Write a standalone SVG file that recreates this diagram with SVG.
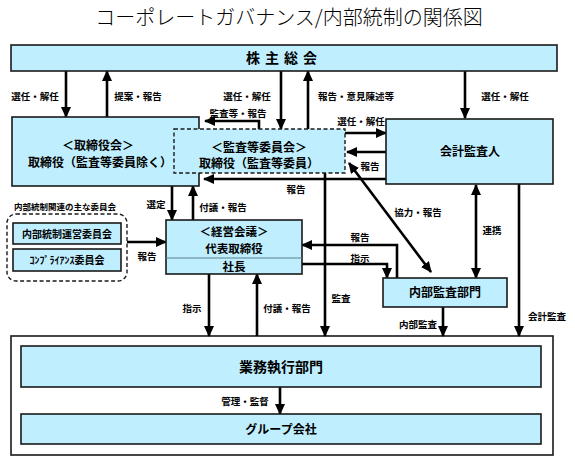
<svg xmlns="http://www.w3.org/2000/svg" width="575" height="459" viewBox="0 0 575 459">
<style>
text{font-family:"Noto Sans CJK JP","Noto Sans",sans-serif;fill:#000}
.box{fill:#BFEFFF;stroke:#1a1a1a;stroke-width:1.6}
.dash{fill:#BFEFFF;stroke:#1a1a1a;stroke-width:1.4;stroke-dasharray:4 2.5}
.grp{fill:#fff;stroke:#1a1a1a;stroke-width:1.4;stroke-dasharray:4 2.5}
.outer{fill:#fff;stroke:#1a1a1a;stroke-width:1.6}
.n{font-size:12px;font-weight:bold;text-anchor:middle}
.big{font-size:14px;font-weight:bold;text-anchor:middle}
.l{font-size:9.5px;font-weight:bold;text-anchor:middle}
.c{fill:none;stroke:#000;stroke-width:2.6}
</style>
<defs>
<marker id="ah" markerUnits="userSpaceOnUse" markerWidth="11" markerHeight="10" refX="10" refY="5" orient="auto">
<path d="M0,0 L11,5 L0,10 z" fill="#000"/>
</marker>
<marker id="as" markerUnits="userSpaceOnUse" markerWidth="11" markerHeight="10" refX="1" refY="5" orient="auto">
<path d="M11,0 L0,5 L11,10 z" fill="#000"/>
</marker>
</defs>
<text x="289" y="25" style="font-size:20px;font-weight:300;text-anchor:middle">コーポレートガバナンス/内部統制の関係図</text>

<g id="outer-exec"><rect class="outer" x="11" y="336" width="542" height="119"/></g>

<g id="connectors">
<path class="c" d="M66,71 V117" marker-end="url(#ah)"/>
<path class="c" d="M107,117 V71" marker-end="url(#ah)"/>
<path class="c" d="M281,71 V129" marker-end="url(#ah)"/>
<path class="c" d="M308,129 V71" marker-end="url(#ah)"/>
<path class="c" d="M465,71 V118" marker-end="url(#ah)"/>
<path class="c" d="M259,129 V121 H205" marker-end="url(#ah)"/>
<path class="c" d="M345,133 H386" marker-end="url(#ah)"/>
<path class="c" d="M386,152 H347" marker-end="url(#ah)"/>
<path class="c" d="M386,179 H204" marker-end="url(#ah)"/>
<path class="c" d="M349,163 L431,272" marker-start="url(#as)" marker-end="url(#ah)"/>
<path class="c" d="M476,185 V278" marker-start="url(#as)" marker-end="url(#ah)"/>
<path class="c" d="M519,184 V336" marker-end="url(#ah)"/>
<path class="c" d="M443,307 V336" marker-end="url(#ah)"/>
<path class="c" d="M172,186 V220" marker-end="url(#ah)"/>
<path class="c" d="M193,220 V186" marker-end="url(#ah)"/>
<path class="c" d="M127,242 H166" marker-end="url(#ah)"/>
<path class="c" d="M397,278 V245 H302" marker-end="url(#ah)"/>
<path class="c" d="M302,264 H387 V278" marker-end="url(#ah)"/>
<path class="c" d="M325,173 V336" marker-end="url(#ah)"/>
<path class="c" d="M209,274 V336" marker-end="url(#ah)"/>
<path class="c" d="M257,336 V274" marker-end="url(#ah)"/>
<path class="c" d="M280,387 V414" marker-end="url(#ah)"/>
<text class="l" x="35" y="100">選任・解任</text>
<text class="l" x="138" y="100">提案・報告</text>
<text class="l" x="247" y="100">選任・解任</text>
<text class="l" x="356" y="100">報告・意見陳述等</text>
<text class="l" x="505" y="100">選任・解任</text>
<text class="l" x="238" y="117">監査等・報告</text>
<text class="l" x="361" y="125">選任・解任</text>
<text class="l" x="370" y="170">報告</text>
<text class="l" x="296" y="193">報告</text>
<text class="l" x="418" y="216">協力・報告</text>
<text class="l" x="492" y="234">連携</text>
<text class="l" x="547" y="320">会計監査</text>
<text class="l" x="418" y="328">内部監査</text>
<text class="l" x="156" y="208">選定</text>
<text class="l" x="223" y="211">付議・報告</text>
<text class="l" x="147" y="260">報告</text>
<text class="l" x="360" y="241">報告</text>
<text class="l" x="360" y="262">指示</text>
<text class="l" x="341" y="302">監査</text>
<text class="l" x="192" y="312">指示</text>
<text class="l" x="287" y="312">付議・報告</text>
<text class="l" x="245" y="405">管理・監督</text>
</g>

<g id="shareholders">
<rect class="box" x="11" y="45" width="546" height="26"/>
<text class="big" x="284" y="63" style="letter-spacing:5px">株主総会</text>
</g>
<g id="board">
<rect class="box" x="12" y="117" width="187" height="69"/>
<text class="n" x="98" y="150">＜取締役会＞</text>
<text class="n" x="100" y="167">取締役（監査等委員除く）</text>
</g>
<g id="audit-committee">
<rect class="dash" x="174" y="129" width="171" height="44"/>
<text class="n" x="259" y="152">＜監査等委員会＞</text>
<text class="n" x="259" y="168">取締役（監査等委員）</text>
</g>
<g id="accounting-auditor">
<rect class="box" x="386" y="119" width="167" height="65"/>
<text class="n" x="470" y="156">会計監査人</text>
</g>
<g id="management-meeting">
<rect class="box" x="166" y="220" width="136" height="54"/>
<line x1="166" y1="258" x2="302" y2="258" stroke="#5a7f8a" stroke-width="1"/>
<text class="n" x="234" y="236" style="font-size:11.5px">＜経営会議＞</text>
<text class="n" x="234" y="253" style="font-size:11.5px">代表取締役</text>
<text class="n" x="234" y="271" style="font-size:11.5px">社長</text>
</g>
<g id="committees">
<text x="65" y="210" style="font-size:8.5px;font-weight:bold;text-anchor:middle">内部統制関連の主な委員会</text>
<rect class="grp" x="7" y="214" width="120" height="67" rx="9"/>
<rect class="box" x="13" y="223" width="108" height="21"/>
<text x="67" y="238" style="font-size:10px;font-weight:bold;text-anchor:middle">内部統制運営委員会</text>
<rect class="box" x="13" y="249" width="108" height="22"/>
<text x="67" y="264" style="font-size:10px;font-weight:bold;text-anchor:middle">ｺﾝﾌﾟﾗｲｱﾝｽ委員会</text>
</g>
<g id="internal-audit">
<rect class="box" x="383" y="278" width="124" height="29"/>
<text class="n" x="445" y="297">内部監査部門</text>
</g>
<g id="business-exec">
<rect class="box" x="21" y="346" width="520" height="41"/>
<text class="big" x="281" y="372">業務執行部門</text>
</g>
<g id="group-companies">
<rect class="box" x="21" y="414" width="520" height="30"/>
<text class="n" x="281" y="434">グループ会社</text>
</g>
</svg>
